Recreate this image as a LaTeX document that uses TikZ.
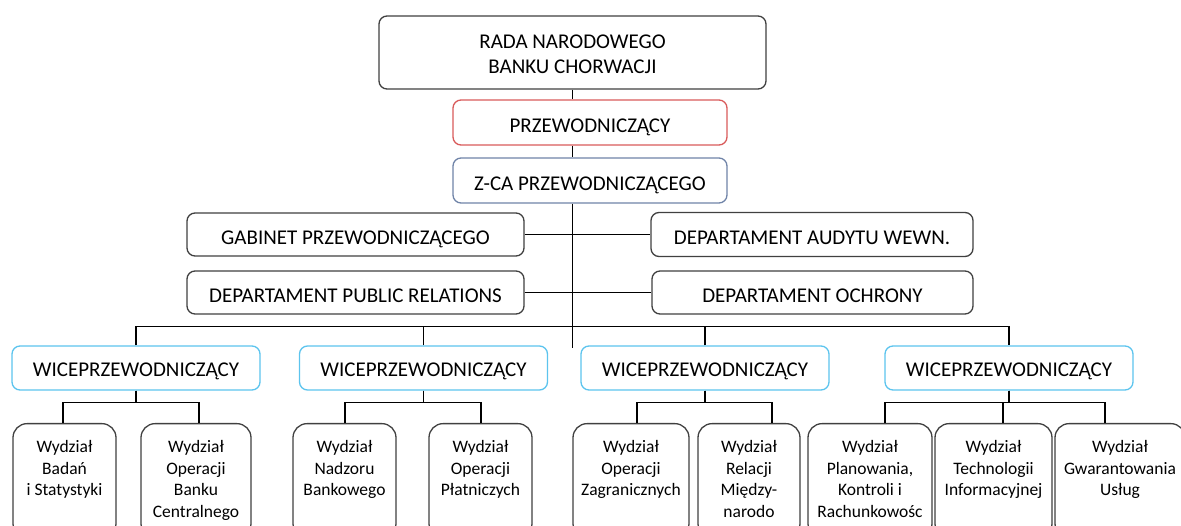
\documentclass[tikz,border=0pt]{standalone}
\usepackage{fontspec}
\setmainfont{Carlito}
\usetikzlibrary{positioning}

\definecolor{ramka}{HTML}{404040}
\definecolor{czerwien}{HTML}{D95B5B}
\definecolor{stalowy}{HTML}{7084A8}
\definecolor{blekit}{HTML}{5CC4EE}

\tikzset{
  box/.style={draw=ramka, line width=1.3pt, rounded corners=8pt, fill=white,
    inner sep=0pt, align=center, font=\fontsize{21}{25}\selectfont},
  jedna/.style={box, text height=22pt, text depth=2pt},
  wice/.style={box, text height=20pt, text depth=2pt, draw=blekit,
    minimum width=248pt, minimum height=44pt},
  wydzial/.style={box, anchor=north, rounded corners=14pt,
    inner xsep=2pt, inner ysep=17pt, font=\fontsize{17.5}{21.5}\selectfont},
  link/.style={line width=1.2pt, black}
}
% tekst wydzialu zawsze od gory ramki
\newcommand*\dzial[2]{\parbox[t][80pt][t]{#1}{\centering #2}}

\begin{document}
\begin{tikzpicture}[x=1pt, y=-1pt]
\useasboundingbox (0,0) rectangle (1181,526);
\clip (0,0) rectangle (1181,526);

% kierownictwo
\node[box, text height=44pt, text depth=2.6pt, minimum width=387pt, minimum height=73pt]
  (rada) at (572.5,52.5) {RADA NARODOWEGO\\BANKU CHORWACJI};
\node[jedna, draw=czerwien, minimum width=274pt, minimum height=45pt] (prz) at (590,122.5)
  {PRZEWODNICZĄCY};
\node[jedna, draw=stalowy, minimum width=274pt, minimum height=45pt] (zca) at (590,180.5)
  {Z-CA PRZEWODNICZĄCEGO};

% departamenty przy pionie
\node[jedna, minimum width=337pt, minimum height=43pt] (gab) at (355.5,234.5) {GABINET PRZEWODNICZĄCEGO};
\node[jedna, minimum width=322pt, minimum height=44pt] (aud) at (812,234.5) {DEPARTAMENT AUDYTU WEWN.};
\node[jedna, minimum width=337pt, minimum height=43pt] (pr) at (355.5,292.5) {DEPARTAMENT PUBLIC RELATIONS};
\node[jedna, minimum width=321pt, minimum height=43pt] (och) at (812.5,292.5) {DEPARTAMENT OCHRONY};

% wiceprzewodniczacy
\node[wice] (w1) at (136,368) {WICEPRZEWODNICZĄCY};
\node[wice] (w2) at (423.5,368) {WICEPRZEWODNICZĄCY};
\node[wice] (w3) at (705,368) {WICEPRZEWODNICZĄCY};
\node[wice] (w4) at (1009,368) {WICEPRZEWODNICZĄCY};

% wydzialy
\node[wydzial] (badan) at (64.5,423) {\dzial{99pt}{Wydział\\Badań\\i Statystyki}};
\node[wydzial] (obc) at (196,423) {\dzial{106pt}{Wydział\\Operacji\\Banku\\Centralnego}};
\node[wydzial] (nadzor) at (344.5,423) {\dzial{99pt}{Wydział\\Nadzoru\\Bankowego}};
\node[wydzial] (plat) at (480.5,423) {\dzial{99pt}{Wydział\\Operacji\\Płatniczych}};
\node[wydzial] (zagr) at (631,423) {\dzial{112pt}{Wydział\\Operacji\\Zagranicznych}};
\node[wydzial] (rel) at (749,423) {\dzial{98pt}{Wydział\\Relacji\\Między-\\narodo}};
\node[wydzial] (plan) at (870,423) {\dzial{120pt}{Wydział\\Planowania,\\Kontroli i\\Rachunkowośc}};
\node[wydzial] (tech) at (993.5,423) {\dzial{113pt}{Wydział\\Technologii\\Informacyjnej}};
\node[wydzial] (gwar) at (1120,423) {\dzial{126pt}{Wydział\\Gwarantowania\\Usług}};

% pion glowny
\draw[link] (rada.south) -- (rada.south |- prz.north);
\draw[link] (rada.south |- prz.south) -- (rada.south |- zca.north);
\draw[link] (rada.south |- zca.south) -- ([yshift=-3pt]rada.south |- w1.north);
\draw[link] (gab.east) -- (aud.west);
\draw[link] (pr.east) -- (och.west);

% szyna do wiceprzewodniczacych
\draw[link] (w1.north) -- ++(0,-19) -| (w4.north);
\foreach \w in {w2,w3}
  \draw[link] (\w.north) -- ++(0,-19);

% odejscia do wydzialow (nie zawsze na srodku ramki)
\foreach \w/\d/\dx in {w1/badan/-1.5, w1/obc/3, w2/nadzor/0.5, w2/plat/0.5,
                       w3/zagr/6, w3/rel/23, w4/plan/15, w4/tech/9.5, w4/gwar/-15}
  \draw[link] (\w.south) -- ++(0,12) -| ([xshift=\dx pt]\d.north);
\end{tikzpicture}
\end{document}
